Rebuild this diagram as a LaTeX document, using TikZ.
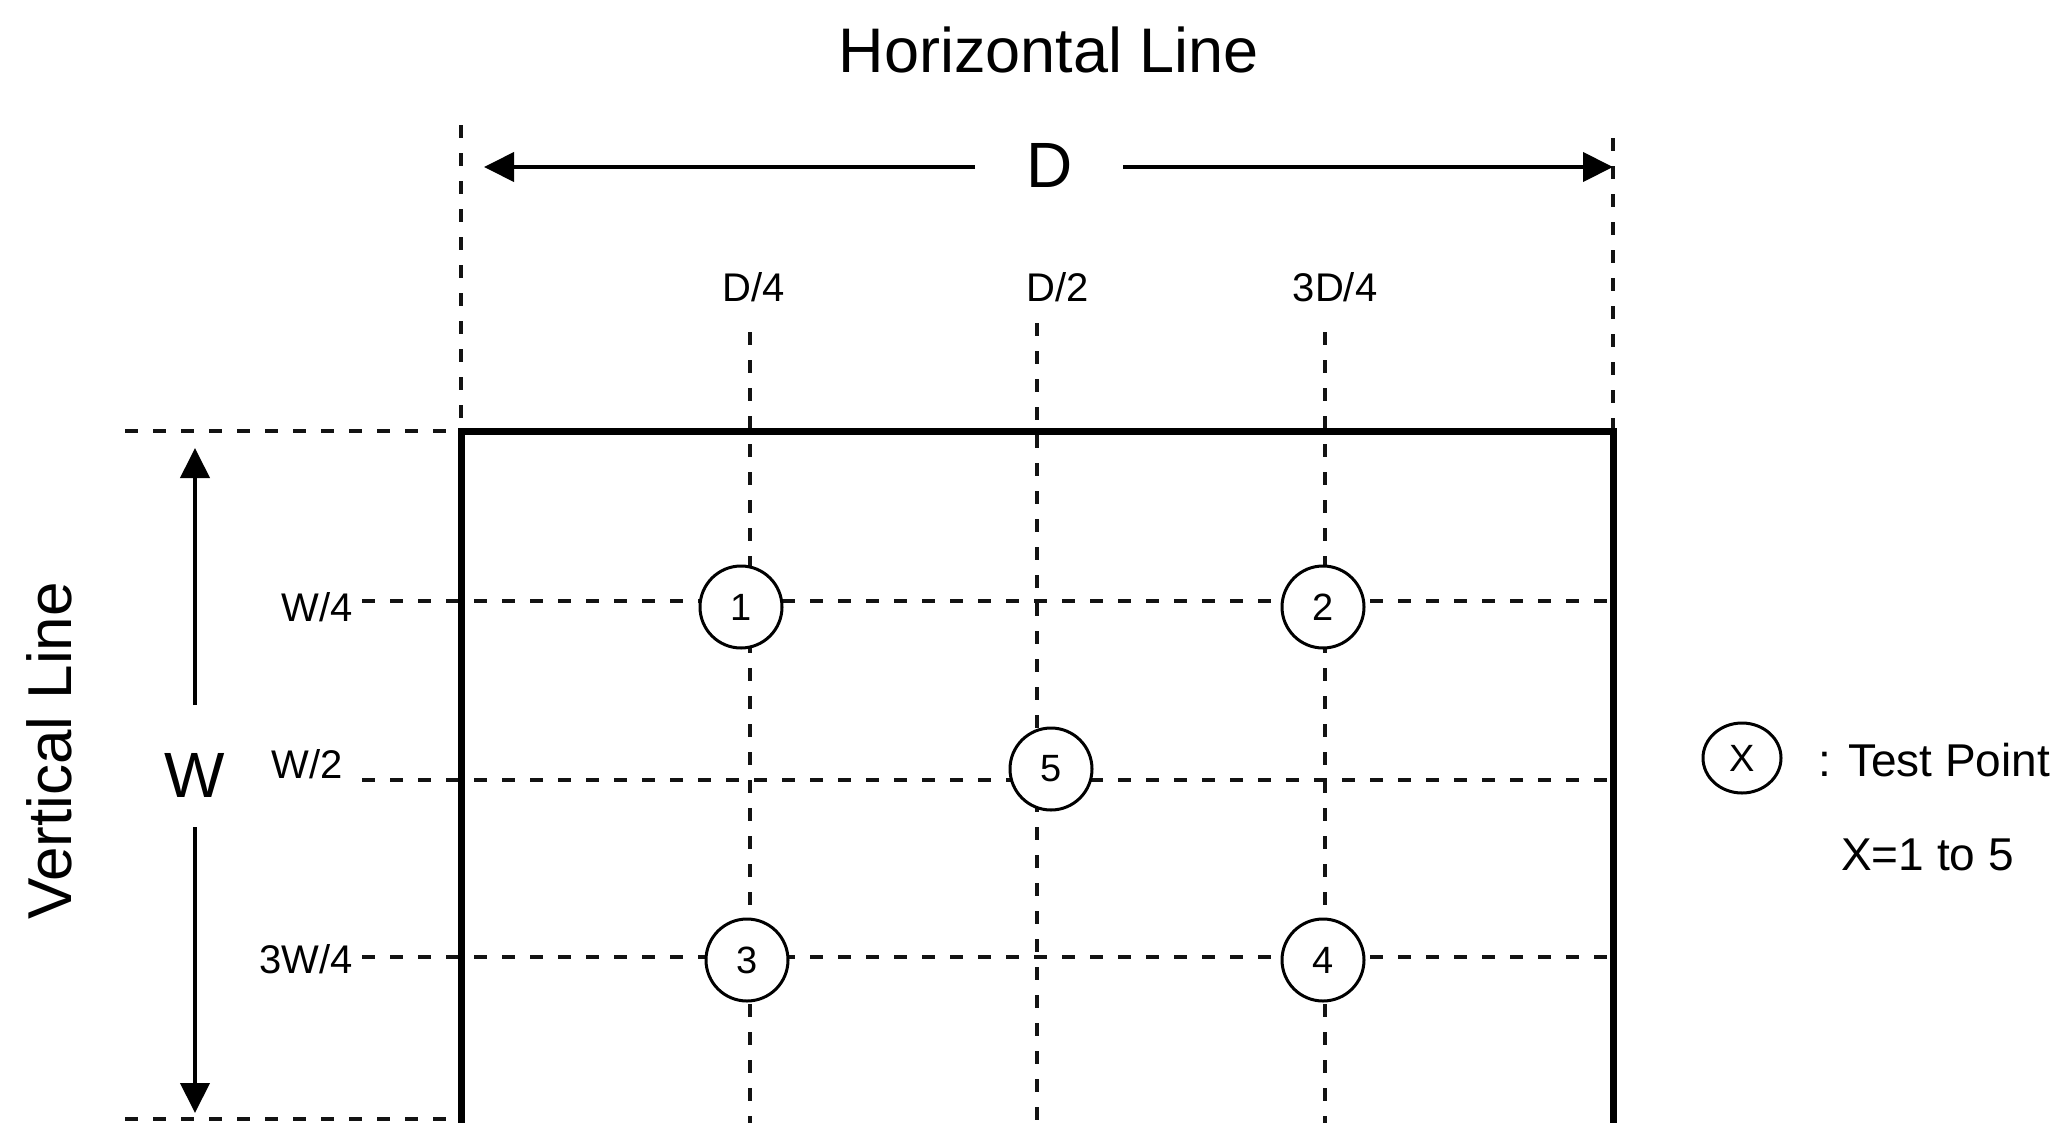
\documentclass[tikz,border=0pt]{standalone}
\usepackage{fontspec}
\setmainfont{Liberation Sans}
\usetikzlibrary{arrows.meta,shapes.geometric}
\tikzset{
  dimline/.style={draw=gray!15!black, line width=4pt, dash pattern=on 13pt off 15pt},
  tpoint/.style={circle, draw=black, fill=white, line width=3pt, minimum size=82pt, inner sep=0pt, font=\fontsize{38}{40}\selectfont},
  lbl/.style={inner sep=0pt, font=\fontsize{40}{44}\selectfont},
  biglbl/.style={inner sep=0pt, font=\fontsize{64}{70}\selectfont},
  legtext/.style={inner sep=0pt, anchor=west, font=\fontsize{46}{50}\selectfont},
  dimarrow/.style={draw=black, line width=4pt, -{Triangle[width=29pt,length=30pt]}},
  frame/.style={draw=black, line width=7pt, line join=miter},
}
\begin{document}
\begin{tikzpicture}[x=1pt,y=-1pt]
\useasboundingbox (0,0) rectangle (2066,1122);
% frame corners
\coordinate (TL) at (461,431);
\coordinate (TR) at (1613,431);
\coordinate (BL) at (461,1140);
\coordinate (BR) at (1613,1140);
% extension line ends
\coordinate (LT) at (461,125);
\coordinate (RT) at (1613,138);
\coordinate (HT) at (125,431);
\coordinate (HBL) at (125,1119);
\coordinate (HBR) at (461,1119);
% D/4, D/2, 3D/4 dashed lines
\coordinate (d1t) at (750,332);  \coordinate (d1b) at (750,1140);
\coordinate (d2t) at (1037,323); \coordinate (d2b) at (1037,1140);
\coordinate (d3t) at (1325,332); \coordinate (d3b) at (1325,1140);
% W/4, W/2, 3W/4 dashed lines
\coordinate (w1l) at (362,601); \coordinate (w1r) at (1613,601);
\coordinate (w2l) at (362,780); \coordinate (w2r) at (1613,780);
\coordinate (w3l) at (362,957); \coordinate (w3r) at (1613,957);

\draw[dimline] (LT) -- (TL);
\draw[dimline] (RT) -- (TR);
\draw[dimline] (HT) -- (TL);
\draw[dimline] (HBL) -- (HBR);
\draw[dimline] (d1t) -- (d1b);
\draw[dimline] (d2t) -- (d2b);
\draw[dimline] (d3t) -- (d3b);
\draw[dimline] (w1l) -- (w1r);
\draw[dimline] (w2l) -- (w2r);
\draw[dimline] (w3l) -- (w3r);

\draw[frame] (BL) -- (TL) -- (TR) -- (BR);

% titles
\node[biglbl, font=\fontsize{63}{70}\selectfont] (htitle) at (1049,50) {Horizontal Line};
\node[biglbl, font=\fontsize{62}{70}\selectfont, rotate=90] (vtitle) at (49,751) {Vertical Line};

% D dimension
\node[biglbl] (D) at (1050,165) {D};
\coordinate (Dl) at (484,167);
\coordinate (Dr) at (1613,167);
\coordinate (Dla) at (975,167);
\coordinate (Dra) at (1123,167);
\draw[dimarrow] (Dla) -- (Dl);
\draw[dimarrow] (Dra) -- (Dr);

% W dimension
\node[biglbl] (W) at (195,775) {W};
\coordinate (Wt) at (195,448);
\coordinate (Wb) at (195,1113);
\coordinate (Wta) at (195,705);
\coordinate (Wba) at (195,827);
\draw[dimarrow] (Wta) -- (Wt);
\draw[dimarrow] (Wba) -- (Wb);

% fraction labels
\node[lbl] (lD4) at (754,287) {D/4};
\node[lbl] (lD2) at (1058,287) {D/2};
\node[lbl] (l3D4) at (1335,287) {3D/4};
\node[lbl, anchor=east] (lW4) at (353,607) {W/4};
\node[lbl, anchor=east] (lW2) at (343,764) {W/2};
\node[lbl, anchor=east] (l3W4) at (353,959) {3W/4};

% test points
\node[tpoint] (p1) at (741,607) {1};
\node[tpoint] (p2) at (1323,607) {2};
\node[tpoint] (p5) at (1051,769) {5};
\node[tpoint] (p3) at (747,960) {3};
\node[tpoint] (p4) at (1323,960) {4};

% legend
\node[ellipse, draw=black, line width=3pt, minimum width=78pt, minimum height=70pt, inner sep=0pt, font=\fontsize{38}{40}\selectfont] (leg) at (1742,758) {X};
\node[legtext] (legt) at (1818,760) {: Test Point};
\node[legtext] (legx) at (1841,855) {X=1 to 5};
\end{tikzpicture}
\end{document}
